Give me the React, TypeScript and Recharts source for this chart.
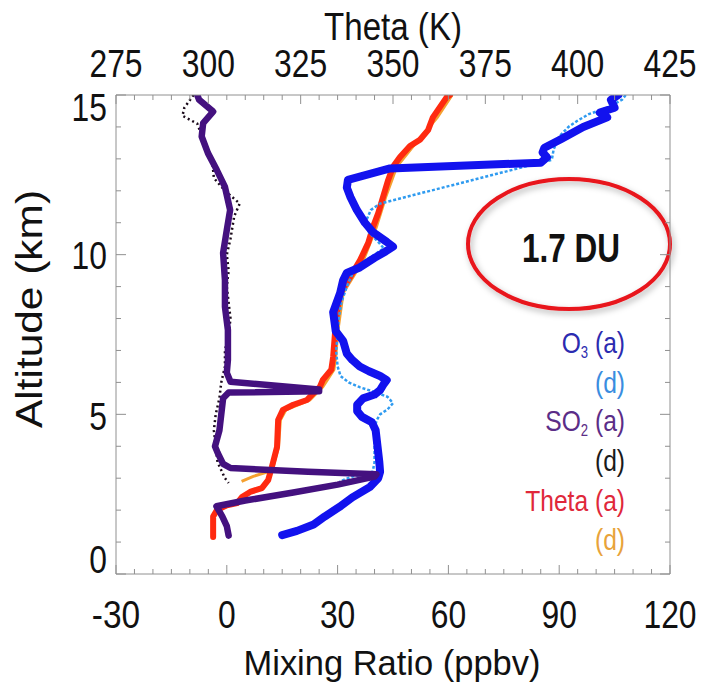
import React from "react";
import { LineChart, Line, XAxis, YAxis } from "recharts";

// profiles as [altitude km, value] in flight order
// O3 / SO2 in ppbv (bottom axis), theta in K (top axis)
const O3_ASCENT: [number, number][] = [
  [1.22, 15], [1.35, 19], [1.55, 23.5], [1.8, 26.5], [2.1, 30.5], [2.4, 34], [2.73, 38.8],
  [3.0, 41], [3.2, 41.5], [3.5, 41.3], [4.0, 40.8], [4.5, 40.3], [4.75, 39.3], [4.92, 36.6],
  [5.1, 35.3], [5.3, 35.3], [5.5, 36.9], [5.62, 40], [5.76, 41.5], [5.95, 42.5], [6.07, 43.3],
  [6.2, 41.5], [6.35, 38.5], [6.5, 36], [6.7, 34], [6.9, 32.5], [7.3, 31.5], [7.6, 29.5],
  [8.2, 28.8], [8.8, 30.7], [9.2, 31.5], [9.43, 32.5], [9.6, 36], [9.9, 40], [10.1, 43],
  [10.25, 45], [10.4, 43.3], [10.7, 39.6], [11.0, 37.4], [11.4, 35.2], [11.8, 33.5],
  [12.1, 32.5], [12.34, 32.8], [12.7, 44.2], [12.88, 85], [13.05, 86.7], [13.2, 85.5],
  [13.35, 86], [13.6, 90.2], [14.0, 96.5], [14.3, 103], [14.45, 101], [14.6, 105],
  [14.85, 104], [15.0, 106],
];
const O3_DESCENT: [number, number][] = [
  [15.0, 108], [14.85, 107], [14.6, 103], [14.4, 98], [14.2, 95], [14.0, 92.5], [13.7, 90],
  [13.3, 88.5], [12.97, 88], [11.6, 41.5], [11.4, 39], [11.0, 37.5], [10.7, 38.5],
  [10.4, 41], [10.2, 42.5], [10.0, 40], [9.7, 36], [9.4, 34], [9.0, 32.5], [8.5, 31],
  [8.0, 30.3], [7.5, 30], [7.0, 29.6], [6.5, 30], [6.2, 30.8], [6.0, 33], [5.85, 36],
  [5.7, 40], [5.55, 43.5], [5.35, 45], [5.15, 43.5], [5.0, 41.5], [4.8, 40.5], [4.5, 40],
  [4.0, 40], [3.5, 40], [3.2, 39.5], [3.05, 34], [2.9, 30.6],
];
const SO2_ASCENT: [number, number][] = [
  [1.2, 0.5], [1.5, 0], [1.8, -1.2], [2.0, -2.2], [2.12, -2.8], [2.3, 5], [2.55, 18],
  [2.8, 30], [3.05, 40], [3.12, 40.5], [3.2, 22], [3.32, 1], [3.45, -1], [3.8, -2.5],
  [4.0, -3.2], [4.5, -2], [5.0, -1.5], [5.5, -1], [5.68, 0.5], [5.72, 25], [5.78, 25],
  [6.02, 1], [6.3, 0], [6.7, 0.3], [7.0, 0.3], [7.64, 0.3], [8.37, -0.5], [9.2, -0.5],
  [10.05, -1], [10.77, 0], [11.4, 0.9], [12.12, -0.5], [12.65, -2.7], [13.18, -5.1],
  [13.7, -6.8], [14.12, -6.4], [14.48, -3.7], [14.85, -7.5], [15.0, -8],
];
const SO2_DESCENT: [number, number][] = [
  [15.0, -9], [14.6, -11.5], [14.35, -12], [14.1, -8], [13.5, -6], [13.0, -4], [12.4, -3.5],
  [12.0, -0.5], [11.6, 3.5], [11.2, 2], [10.5, 1], [10.0, 0], [9.5, 0.5], [9.0, 0],
  [8.5, 0.5], [8.0, 1], [7.5, 0.5], [7.0, -0.5], [6.5, -0.5], [6.0, -1.5], [5.5, -2],
  [5.0, -3], [4.5, -3.5], [4.0, -3], [3.5, -2.5], [3.0, -0.5], [2.85, 0.5],
];
const THETA_ASCENT: [number, number][] = [
  [1.16, 301.3], [1.5, 301.3], [1.8, 301.3], [2.0, 302.3], [2.15, 305], [2.22, 307.8],
  [2.41, 309.1], [2.57, 311.3], [2.69, 314.5], [2.94, 316.2], [3.35, 317.2], [3.98, 318.6],
  [4.82, 318.9], [5.14, 320.2], [5.3, 323], [5.45, 326.7], [5.67, 328.5], [5.86, 330.2],
  [6.08, 331], [6.4, 333.3], [6.8, 333.8], [7.55, 334.3], [8.17, 334.8], [8.8, 335.7],
  [9.3, 338.4], [9.83, 341.1], [10.37, 343.3], [10.87, 344.6], [11.3, 346], [11.8, 347.3],
  [12.34, 348.7], [12.75, 350], [13.06, 351.9], [13.4, 354.6], [13.6, 357.3], [13.9, 359.5],
  [14.3, 360.8], [14.94, 364.6], [15.0, 365.4],
];
const THETA_DESCENT: [number, number][] = [
  [15.0, 366], [14.3, 362], [13.4, 355.5], [12.75, 351], [11.8, 348], [10.87, 345.5],
  [9.83, 342], [8.8, 336.5], [7.55, 335], [6.8, 334.5], [6.4, 334], [5.86, 331],
  [5.45, 327.5], [5.14, 321], [4.82, 319.5], [3.98, 319], [3.35, 317.5], [3.2, 316],
  [3.05, 312], [2.9, 309],
];

const MIX_LABELS = [-30, 0, 30, 60, 90, 120];
const THETA_LABELS = [275, 300, 325, 350, 375, 400, 425];
const ALT_LABELS = [0, 5, 10, 15];

const range = (a: number, b: number, s: number) => {
  const out: number[] = [];
  for (let v = a; v <= b; v += s) out.push(v);
  return out;
};
const MIX_TICKS = range(-30, 120, 5);
const THETA_TICKS = range(275, 425, 5);
const ALT_TICKS = range(0, 15, 1);

const toRows = (pts: [number, number][]) => pts.map(([alt, x]) => ({ alt, x }));

const GREY = "#909090";
const FONT = "'Liberation Sans', Arial, Helvetica, sans-serif";
const labelWidth = (s: string) => s.replace("-", "").length * 17.7 + (s.startsWith("-") ? 13 : 0);

function BottomTick(props: any) {
  const { x, y, payload } = props;
  const v = payload.value;
  const major = MIX_LABELS.includes(v);
  const s = String(v);
  return (
    <g>
      <line x1={x} x2={x} y1={y} y2={y - (major ? 9 : 5)} stroke={GREY} />
      {major && (
        <text x={x} y={y + 54} textAnchor="middle" fontSize={38} fill="#111"
          textLength={labelWidth(s)} lengthAdjust="spacingAndGlyphs">{s}</text>
      )}
    </g>
  );
}

function TopTick(props: any) {
  const { x, y, payload } = props;
  const v = payload.value;
  const major = THETA_LABELS.includes(v);
  const s = String(v);
  return (
    <g>
      <line x1={x} x2={x} y1={y} y2={y + (major ? 9 : 5)} stroke={GREY} />
      {major && (
        <text x={x} y={y - 18} textAnchor="middle" fontSize={38} fill="#111"
          textLength={labelWidth(s)} lengthAdjust="spacingAndGlyphs">{s}</text>
      )}
    </g>
  );
}

const ALT_NUDGE: Record<number, number> = { 0: -15, 5: 2, 10: 1, 15: 12 };

function LeftTick(props: any) {
  const { x, y, payload } = props;
  const v = payload.value;
  const major = ALT_LABELS.includes(v);
  const s = String(v);
  return (
    <g>
      <line x1={x} x2={x + (major ? 10 : 5)} y1={y} y2={y} stroke={GREY} />
      {major && (
        <text x={x - 9} y={y + 13.5 + (ALT_NUDGE[v] || 0)} textAnchor="end" fontSize={38} fill="#111"
          textLength={labelWidth(s)} lengthAdjust="spacingAndGlyphs">{s}</text>
      )}
    </g>
  );
}

function RightTick(props: any) {
  const { x, y, payload } = props;
  const major = ALT_LABELS.includes(payload.value);
  return <line x1={x} x2={x - (major ? 10 : 5)} y1={y} y2={y} stroke={GREY} />;
}

function LegendRow({ y, color, main, sub, tail }: { y: number; color: string; main: string; sub?: string; tail: string }) {
  return (
    <g transform={`translate(625, ${y}) scale(0.82, 1)`}>
      <text x={0} y={0} textAnchor="end" fontSize={30} fill={color}>
        {main}
        {sub && <tspan fontSize={16} dy={5}>{sub}</tspan>}
        <tspan dy={sub ? -5 : 0}>{tail}</tspan>
      </text>
    </g>
  );
}

export default function App() {
  return (
    <div style={{ position: "absolute", left: 0, top: 0, width: 705, height: 687, background: "#fff" }}>
      <LineChart width={705} height={687} margin={{ top: 0, right: 0, bottom: 0, left: 0 }} style={{ fontFamily: FONT }}>
        <defs>
          <filter id="ringShadow" x="-20%" y="-20%" width="140%" height="140%">
            <feDropShadow dx="2" dy="3" stdDeviation="3" floodColor="#000" floodOpacity="0.3" />
          </filter>
        </defs>
        <XAxis xAxisId="mix" type="number" dataKey="x" domain={[-30, 120]} ticks={MIX_TICKS} interval={0}
          allowDataOverflow orientation="bottom" height={113} tickSize={0} tickMargin={0} tickLine={false}
          axisLine={{ stroke: GREY }} tick={(p: any) => <BottomTick {...p} />} />
        <XAxis xAxisId="theta" type="number" dataKey="x" domain={[275, 425]} ticks={THETA_TICKS} interval={0}
          allowDataOverflow orientation="top" height={95} tickSize={0} tickMargin={0} tickLine={false}
          axisLine={{ stroke: GREY }} tick={(p: any) => <TopTick {...p} />} />
        <YAxis yAxisId="alt" type="number" domain={[0, 15]} ticks={ALT_TICKS} interval={0} allowDataOverflow
          width={116} tickSize={0} tickMargin={0} tickLine={false} axisLine={{ stroke: GREY }}
          tick={(p: any) => <LeftTick {...p} />} />
        <YAxis yAxisId="right" orientation="right" type="number" domain={[0, 15]} ticks={ALT_TICKS} interval={0}
          allowDataOverflow width={35} tickSize={0} tickMargin={0} tickLine={false} axisLine={{ stroke: GREY }}
          tick={(p: any) => <RightTick {...p} />} />

        <Line data={toRows(THETA_DESCENT)} xAxisId="theta" yAxisId="alt" dataKey="alt" stroke="#f5a030"
          strokeWidth={3} dot={false} isAnimationActive={false} />
        <Line data={toRows(THETA_ASCENT)} xAxisId="theta" yAxisId="alt" dataKey="alt" stroke="#ff2a10"
          strokeWidth={6} strokeLinejoin="round" strokeLinecap="round" dot={false} isAnimationActive={false} />
        <Line data={toRows(O3_DESCENT)} xAxisId="mix" yAxisId="alt" dataKey="alt" stroke="#2f9bf0"
          strokeWidth={2.5} strokeDasharray="3 2" dot={false} isAnimationActive={false} />
        <Line data={toRows(O3_ASCENT)} xAxisId="mix" yAxisId="alt" dataKey="alt" stroke="#1212ee"
          strokeWidth={8} strokeLinejoin="round" strokeLinecap="round" dot={false} isAnimationActive={false} />
        <Line data={toRows(SO2_DESCENT)} xAxisId="mix" yAxisId="alt" dataKey="alt" stroke="#1a0a1a"
          strokeWidth={2.5} strokeDasharray="2 3" dot={false} isAnimationActive={false} />
        <Line data={toRows(SO2_ASCENT)} xAxisId="mix" yAxisId="alt" dataKey="alt" stroke="#44117f"
          strokeWidth={6.5} strokeLinejoin="round" strokeLinecap="round" dot={false} isAnimationActive={false} />

        <text x={393} y={40} textAnchor="middle" fontSize={38} fill="#111" textLength={138}
          lengthAdjust="spacingAndGlyphs">Theta (K)</text>
        <text x={392} y={675} textAnchor="middle" fontSize={35} fill="#111" textLength={297}
          lengthAdjust="spacingAndGlyphs">Mixing Ratio (ppbv)</text>
        <text transform="translate(42, 309) rotate(-90)" x={0} y={0} textAnchor="middle" fontSize={37} fill="#111"
          textLength={238} lengthAdjust="spacingAndGlyphs">Altitude (km)</text>

        <ellipse cx={569} cy={244} rx={101} ry={65} fill="none" stroke="#e8141c" strokeWidth={4}
          filter="url(#ringShadow)" />
        <text x={571} y={262} textAnchor="middle" fontSize={41} fontWeight="bold" fill="#111" textLength={98}
          lengthAdjust="spacingAndGlyphs">1.7 DU</text>

        <LegendRow y={353} color="#2b2bb0" main="O" sub="3" tail=" (a)" />
        <LegendRow y={393} color="#3a8de0" main="" tail="(d)" />
        <LegendRow y={431} color="#5b2d87" main="SO" sub="2" tail=" (a)" />
        <LegendRow y={471} color="#1a1a1a" main="" tail="(d)" />
        <LegendRow y={511} color="#e0283a" main="Theta" tail=" (a)" />
        <LegendRow y={550} color="#e8a33a" main="" tail="(d)" />
      </LineChart>
    </div>
  );
}
